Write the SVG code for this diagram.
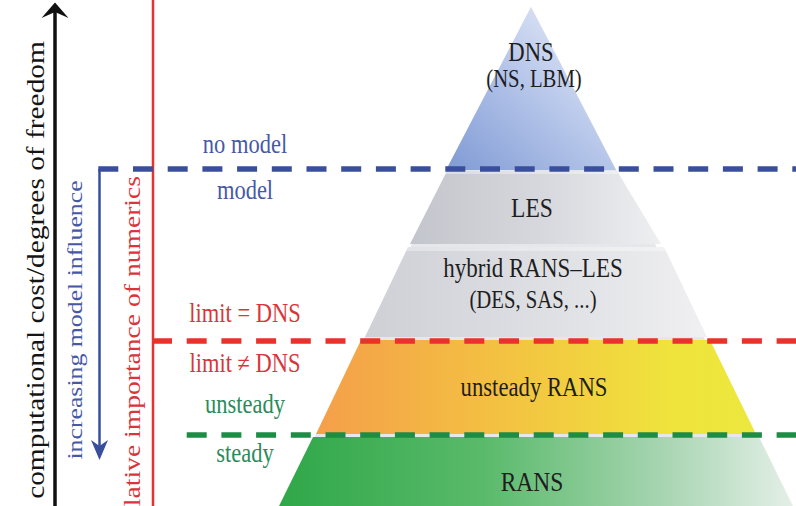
<svg xmlns="http://www.w3.org/2000/svg" width="796" height="506" viewBox="0 0 796 506" font-family="'Liberation Serif', 'DejaVu Serif', serif">
<style>
text { font-family: "Liberation Serif", "DejaVu Serif", serif; text-anchor: middle; }
.lbl { font-size: 22.5px; }
.in { font-size: 22.7px; fill: #1e1e1e; }
.sub { font-size: 20.7px; fill: #1e1e1e; }
.blue { fill: #4658a6; }
.red { fill: #d9353a; }
.green { fill: #2b8a5a; }
.dash { fill: none; stroke-width: 5.5; stroke-dasharray: 20 14.7; }
.edge { fill: #ffffff; opacity: 0.35; }
</style>
<defs>
<linearGradient id="gDns" x1="0" y1="1" x2="1" y2="0">
<stop offset="0" stop-color="#7f9ad4"/><stop offset="0.5" stop-color="#b6c6ea"/><stop offset="1" stop-color="#f2f4fa"/>
</linearGradient>
<linearGradient id="gLes" x1="0" y1="0" x2="1" y2="0">
<stop offset="0" stop-color="#c3c5cc"/><stop offset="0.55" stop-color="#d8d9de"/><stop offset="1" stop-color="#eeeff1"/>
</linearGradient>
<linearGradient id="gHyb" x1="0" y1="0" x2="1" y2="0">
<stop offset="0" stop-color="#cfd0d6"/><stop offset="0.55" stop-color="#dfe0e4"/><stop offset="1" stop-color="#f0f0f2"/>
</linearGradient>
<linearGradient id="gUns" x1="0" y1="0" x2="1" y2="0">
<stop offset="0" stop-color="#f59f4a"/><stop offset="0.45" stop-color="#f3c441"/><stop offset="0.8" stop-color="#efe33c"/><stop offset="1" stop-color="#ece83e"/>
</linearGradient>
<linearGradient id="gRans" x1="0" y1="0" x2="1" y2="0">
<stop offset="0" stop-color="#2fa748"/><stop offset="0.4" stop-color="#5aba6b"/><stop offset="0.75" stop-color="#a8d5b2"/><stop offset="1" stop-color="#e4efe7"/>
</linearGradient>
</defs>

<g id="pyramid-base">
<polygon points="531,7 792,506 280,506" fill="#e6e7ea"/>
</g>
<g id="dns">
<polygon points="531,7 616,170 446,170" fill="url(#gDns)"/>
<text class="in" transform="translate(531,61) scale(1,1.2)">DNS</text>
<text class="sub" transform="translate(534,87) scale(1,1.2)">(NS, LBM)</text>
</g>
<g id="les">
<polygon points="447,171 617,171 661,244 410,244" fill="url(#gLes)"/>
<polygon class="edge" points="447,171 617,171 618,174 446,174"/>
<text class="in" style="font-size:23.5px" transform="translate(532,217) scale(1,1.2)">LES</text>
</g>
<g id="hybrid">
<polygon points="408,247 664,247 707,337 365,337" fill="url(#gHyb)"/>
<polygon class="edge" points="408,247 664,247 666,251 406,251"/>
<text class="in" style="font-size:23px" transform="translate(533,277) scale(1,1.2)">hybrid RANS–LES</text>
<text class="sub" transform="translate(533,308) scale(1,1.2)">(DES, SAS, ...)</text>
</g>
<g id="unsteady-rans">
<polygon points="361,340 710,340 756,434 316,434" fill="url(#gUns)"/>
<text class="in" transform="translate(534,396) scale(1,1.2)">unsteady RANS</text>
</g>
<g id="rans">
<polygon points="313,437 759,437 793,506 279,506" fill="url(#gRans)"/>
<text class="in" style="font-size:23.5px" transform="translate(532,491) scale(1,1.2)">RANS</text>
</g>

<g id="axis">
<text style="font-size:24.5px;fill:#151515" transform="translate(44,270) scale(1,1.2) rotate(-90)">computational cost/degrees of freedom</text>
</g>
<g id="model-influence">
<text class="blue" style="font-size:21.5px" transform="translate(82,320) scale(1,1.2) rotate(-90)">increasing model influence</text>
</g>
<g id="numerics">
<text class="red" style="font-size:23px;text-anchor:end" transform="translate(140,176) scale(1,1.2) rotate(-90)">lative importance of numerics</text>
</g>

<g id="labels">
<text class="lbl blue" transform="translate(245,153) scale(1,1.2)">no model</text>
<text class="lbl blue" transform="translate(245,199) scale(1,1.2)">model</text>
<text class="lbl red" transform="translate(245,322) scale(1,1.2)">limit = DNS</text>
<text class="lbl red" transform="translate(245,372) scale(1,1.2)">limit ≠ DNS</text>
<text class="lbl green" transform="translate(245,413) scale(1,1.2)">unsteady</text>
<text class="lbl green" transform="translate(245,462) scale(1,1.2)">steady</text>
</g>

<g id="connectors">
<line x1="55" y1="506" x2="55" y2="8" stroke="#111" stroke-width="3.5"/>
<path d="M41.5,18 L55,2.5 L68.5,18 L55,12 Z" fill="#111"/>
<line x1="153" y1="0" x2="153" y2="506" stroke="#e8322b" stroke-width="2.5"/>
<line x1="99.5" y1="169" x2="99.5" y2="448" stroke="#3a4f9c" stroke-width="2.5"/>
<path d="M91,440 L99.5,460 L108,440 L99.5,446 Z" fill="#3a4f9c"/>
<line class="dash" x1="98.3" y1="169" x2="796" y2="169" stroke="#3a4f9c"/>
<line class="dash" x1="152" y1="341" x2="796" y2="341" stroke="#e8322b"/>
<line class="dash" x1="186.7" y1="435" x2="796" y2="435" stroke="#1e8c45"/>
</g>
</svg>
